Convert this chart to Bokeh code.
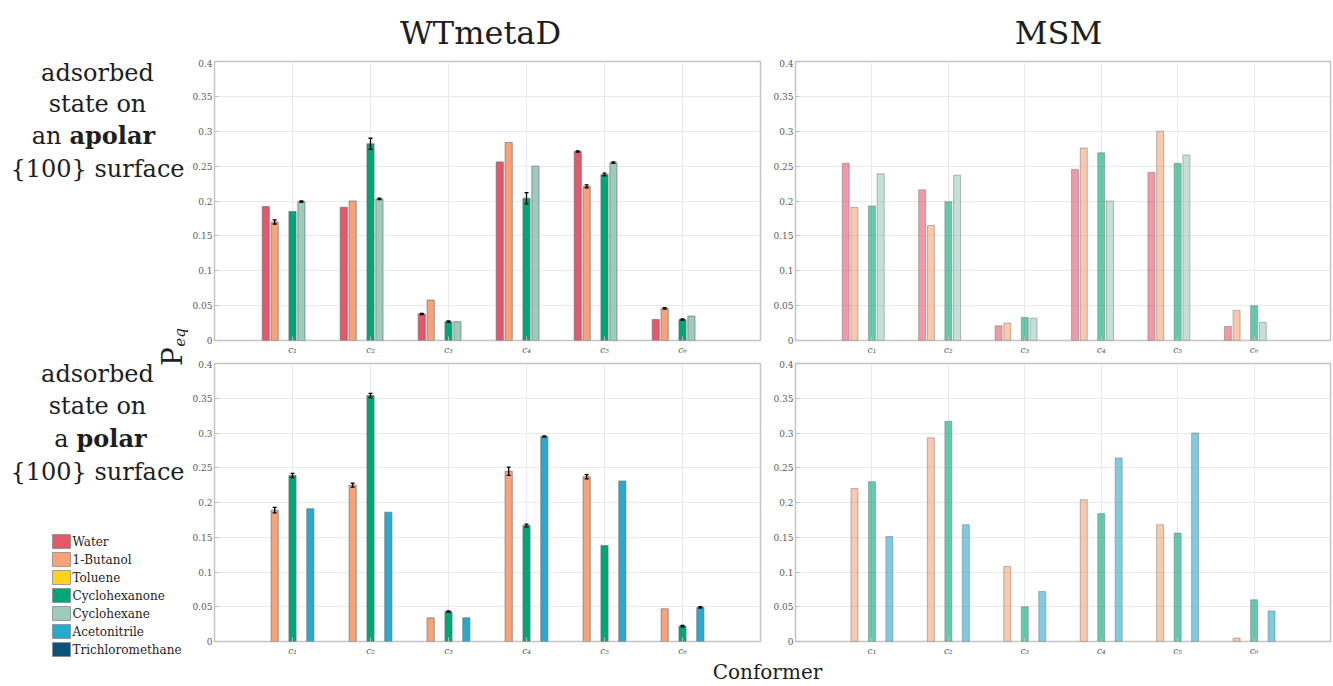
import numpy as np
from bokeh.plotting import figure
from bokeh.layouts import row, column
from bokeh.models import (ColumnDataSource, Range1d, FixedTicker,
                          CustomJSTickFormatter, Whisker, TeeHead)
from bokeh.core.properties import value
from bokeh.embed import file_html
from bokeh.resources import INLINE

# ---------------- data ----------------
series = ["Water", "1-Butanol", "Toluene", "Cyclohexanone", "Cyclohexane",
          "Acetonitrile", "Trichloromethane"]
colors = ["#E5576A", "#F7A377", "#FDD31B", "#00A677", "#9DCCBC", "#29A9CE", "#0B527F"]
conformers = [1, 2, 3, 4, 5, 6]
conformer_labels = ["c₁", "c₂", "c₃", "c₄", "c₅", "c₆"]
y_ticks = [0, 0.05, 0.1, 0.15, 0.2, 0.25, 0.3, 0.35, 0.4]

# WTmetaD, apolar surface
wt_apolar_water = [0.192, 0.191, 0.038, 0.256, 0.271, 0.030]
wt_apolar_butanol = [0.170, 0.200, 0.058, 0.284, 0.221, 0.046]
wt_apolar_cyclohexanone = [0.185, 0.282, 0.027, 0.204, 0.238, 0.030]
wt_apolar_cyclohexane = [0.199, 0.203, 0.027, 0.250, 0.255, 0.035]
wt_apolar_err_water = [0.0, 0.0, 0.001, 0.0, 0.001, 0.0]
wt_apolar_err_butanol = [0.003, 0.0, 0.0, 0.0, 0.002, 0.001]
wt_apolar_err_cyclohexanone = [0.0, 0.008, 0.001, 0.008, 0.002, 0.001]
wt_apolar_err_cyclohexane = [0.001, 0.001, 0.0, 0.0, 0.001, 0.0]

# MSM, apolar surface
msm_apolar_water = [0.254, 0.216, 0.021, 0.245, 0.241, 0.020]
msm_apolar_butanol = [0.191, 0.165, 0.025, 0.276, 0.300, 0.043]
msm_apolar_cyclohexanone = [0.193, 0.199, 0.033, 0.269, 0.254, 0.050]
msm_apolar_cyclohexane = [0.239, 0.237, 0.032, 0.200, 0.266, 0.026]

# WTmetaD, polar surface
wt_polar_butanol = [0.189, 0.225, 0.034, 0.245, 0.237, 0.047]
wt_polar_cyclohexanone = [0.239, 0.354, 0.043, 0.167, 0.138, 0.022]
wt_polar_acetonitrile = [0.191, 0.186, 0.034, 0.295, 0.231, 0.049]
wt_polar_err_butanol = [0.004, 0.003, 0.0, 0.006, 0.003, 0.0]
wt_polar_err_cyclohexanone = [0.003, 0.003, 0.001, 0.002, 0.0, 0.001]
wt_polar_err_acetonitrile = [0.0, 0.0, 0.0, 0.001, 0.0, 0.001]

# MSM, polar surface
msm_polar_butanol = [0.220, 0.293, 0.108, 0.204, 0.168, 0.005]
msm_polar_cyclohexanone = [0.230, 0.317, 0.050, 0.184, 0.156, 0.060]
msm_polar_acetonitrile = [0.151, 0.168, 0.072, 0.264, 0.300, 0.044]

SERIF = "DejaVu Serif"
TXT = "#1e1e1e"
n_series = len(series)
group_w = min(0.8, n_series / (n_series + 1.5))
slot = group_w / n_series
bar_w = slot * 0.8


def panel(data, errs, alpha, width, height, bl, br, bt, bb):
    p = figure(width=width, height=height, x_range=Range1d(0, 7), y_range=Range1d(0, 0.4),
               output_backend="svg", toolbar_location=None,
               min_border_left=bl, min_border_right=br, min_border_top=bt, min_border_bottom=bb)
    p.background_fill_color = "white"
    p.outline_line_color = "#C4C4C4"
    p.outline_line_width = 1.5
    for name, vals in data.items():
        k = series.index(name)
        xs = np.array(conformers, dtype=float) + (k - (n_series - 1) / 2) * slot
        src = ColumnDataSource(dict(x=xs, top=vals))
        p.vbar(x="x", top="top", width=bar_w, source=src, fill_color=colors[k],
               fill_alpha=alpha, line_color="#6f6f6f", line_alpha=0.55 * alpha + 0.2,
               line_width=0.9)
        if errs and name in errs:
            e = np.array(errs[name])
            m = e > 0
            v = np.array(vals)
            esrc = ColumnDataSource(dict(x=xs[m], upper=(v + e)[m], lower=(v - e)[m]))
            w = Whisker(base="x", upper="upper", lower="lower", source=esrc,
                        line_color="black", line_width=1.3, level="overlay",
                        upper_head=TeeHead(size=4, line_color="black", line_width=1.3),
                        lower_head=TeeHead(size=4, line_color="black", line_width=1.3))
            p.add_layout(w)
    fmt = CustomJSTickFormatter(code="var s = tick.toFixed(2); s = s.replace(/0+$/, ''); return s.replace(/\\.$/, '');")
    ya = p.yaxis[0]
    ya.ticker = FixedTicker(ticks=y_ticks)
    ya.formatter = fmt
    xa = p.xaxis[0]
    xa.ticker = FixedTicker(ticks=conformers)
    xa.major_label_overrides = {c: l for c, l in zip(conformers, conformer_labels)}
    xa.major_label_text_font_style = "italic"
    for ax in (xa, ya):
        ax.axis_line_color = None
        ax.major_tick_in = 4
        ax.major_tick_out = 0
        ax.major_tick_line_color = "#BDBDBD"
        ax.minor_tick_line_color = None
        ax.major_label_text_font = SERIF
        ax.major_label_text_font_size = "9px"
        ax.major_label_text_color = "#5a5a5a"
    ya.major_label_standoff = 2
    xa.major_label_standoff = 4
    p.xgrid.ticker = FixedTicker(ticks=conformers)
    p.ygrid.ticker = FixedTicker(ticks=y_ticks)
    p.grid.grid_line_color = "#E9E9E9"
    p.grid.grid_line_width = 1
    return p


def text_fig(w, h):
    f = figure(width=w, height=h, x_range=Range1d(0, w), y_range=Range1d(h, 0),
               output_backend="svg", toolbar_location=None, x_axis_type=None,
               y_axis_type=None, min_border=0)
    f.outline_line_color = None
    f.grid.visible = False
    return f


W_L, W_TL, W_TR = 189, 581, 563
H_HEAD, H_R1, H_R2, H_FOOT = 59, 301, 298, 26

tl = panel({"Water": wt_apolar_water, "1-Butanol": wt_apolar_butanol,
            "Cyclohexanone": wt_apolar_cyclohexanone, "Cyclohexane": wt_apolar_cyclohexane},
           {"Water": wt_apolar_err_water, "1-Butanol": wt_apolar_err_butanol,
            "Cyclohexanone": wt_apolar_err_cyclohexanone, "Cyclohexane": wt_apolar_err_cyclohexane},
           1.0, W_TL, H_R1, 22, 10, 2, 20)
tr = panel({"Water": msm_apolar_water, "1-Butanol": msm_apolar_butanol,
            "Cyclohexanone": msm_apolar_cyclohexanone, "Cyclohexane": msm_apolar_cyclohexane},
           None, 0.6, W_TR, H_R1, 22, 3, 2, 20)
bl = panel({"1-Butanol": wt_polar_butanol, "Cyclohexanone": wt_polar_cyclohexanone,
            "Acetonitrile": wt_polar_acetonitrile},
           {"1-Butanol": wt_polar_err_butanol, "Cyclohexanone": wt_polar_err_cyclohexanone,
            "Acetonitrile": wt_polar_err_acetonitrile},
           1.0, W_TL, H_R2, 22, 10, 3, 16)
br = panel({"1-Butanol": msm_polar_butanol, "Cyclohexanone": msm_polar_cyclohexanone,
            "Acetonitrile": msm_polar_acetonitrile},
           None, 0.6, W_TR, H_R2, 22, 3, 3, 16)

# header with column titles
header = text_fig(W_L + W_TL + W_TR, H_HEAD)
header.text(x=[480, 1058], y=[32, 32], text=["WTmetaD", "MSM"], text_font=value(SERIF),
            text_font_size="32px", text_align="center", text_baseline="middle", text_color=TXT)

# left column: row labels, y label, legend
LH = H_R1 + H_R2
left = text_fig(W_L, LH)
cx = 97
left.text(x=[cx, cx, cx, cx, cx, cx], y=[13, 44, 109, 314, 346, 412],
          text=["adsorbed", "state on", "{100} surface", "adsorbed", "state on", "{100} surface"],
          text_font=value(SERIF), text_font_size="24px", text_align="center",
          text_baseline="middle", text_color=TXT)
left.text(x=[61, 68], y=[76, 379], text=["an", "a"], text_font=value(SERIF),
          text_font_size="24px", text_align="right", text_baseline="middle", text_color=TXT)
left.text(x=[69, 76], y=[76, 379], text=["apolar", "polar"], text_font=value(SERIF),
          text_font_size="24px", text_font_style="bold", text_align="left",
          text_baseline="middle", text_color=TXT)
left.text(x=[188], y=[297], text=["P"], angle=np.pi / 2, text_font=value(SERIF),
          text_font_size="28px", text_align="center", text_baseline="bottom", text_color=TXT)
left.text(x=[188], y=[278], text=["eq"], angle=np.pi / 2, text_font=value(SERIF),
          text_font_size="15px", text_font_style="italic", text_align="center",
          text_baseline="bottom", text_color=TXT)

# legend (swatches + serif labels)
leg_top, leg_pitch, sw_x, sw_w, sw_h = 482, 18, 61, 18, 14
leg_y = leg_top + leg_pitch * np.arange(n_series)
leg_src = ColumnDataSource(dict(x=[sw_x] * n_series, y=leg_y, c=colors, t=series,
                                tx=[sw_x + sw_w / 2 + 2] * n_series))
left.rect(x="x", y="y", width=sw_w, height=sw_h, fill_color="c", line_color="#8a8a8a",
          line_width=0.8, source=leg_src)
left.text(x="tx", y="y", text="t", text_font=value(SERIF), text_font_size="12px",
          text_align="left", text_baseline="middle", text_color=TXT, source=leg_src)

footer = text_fig(W_L + W_TL + W_TR, H_FOOT)
footer.text(x=[767], y=[13], text=["Conformer"], text_font=value(SERIF), text_font_size="20px",
            text_align="center", text_baseline="middle", text_color=TXT)

layout = column(header, row(left, column(row(tl, tr), row(bl, br))), footer)

open("out.html", "w").write(file_html(layout, INLINE))
